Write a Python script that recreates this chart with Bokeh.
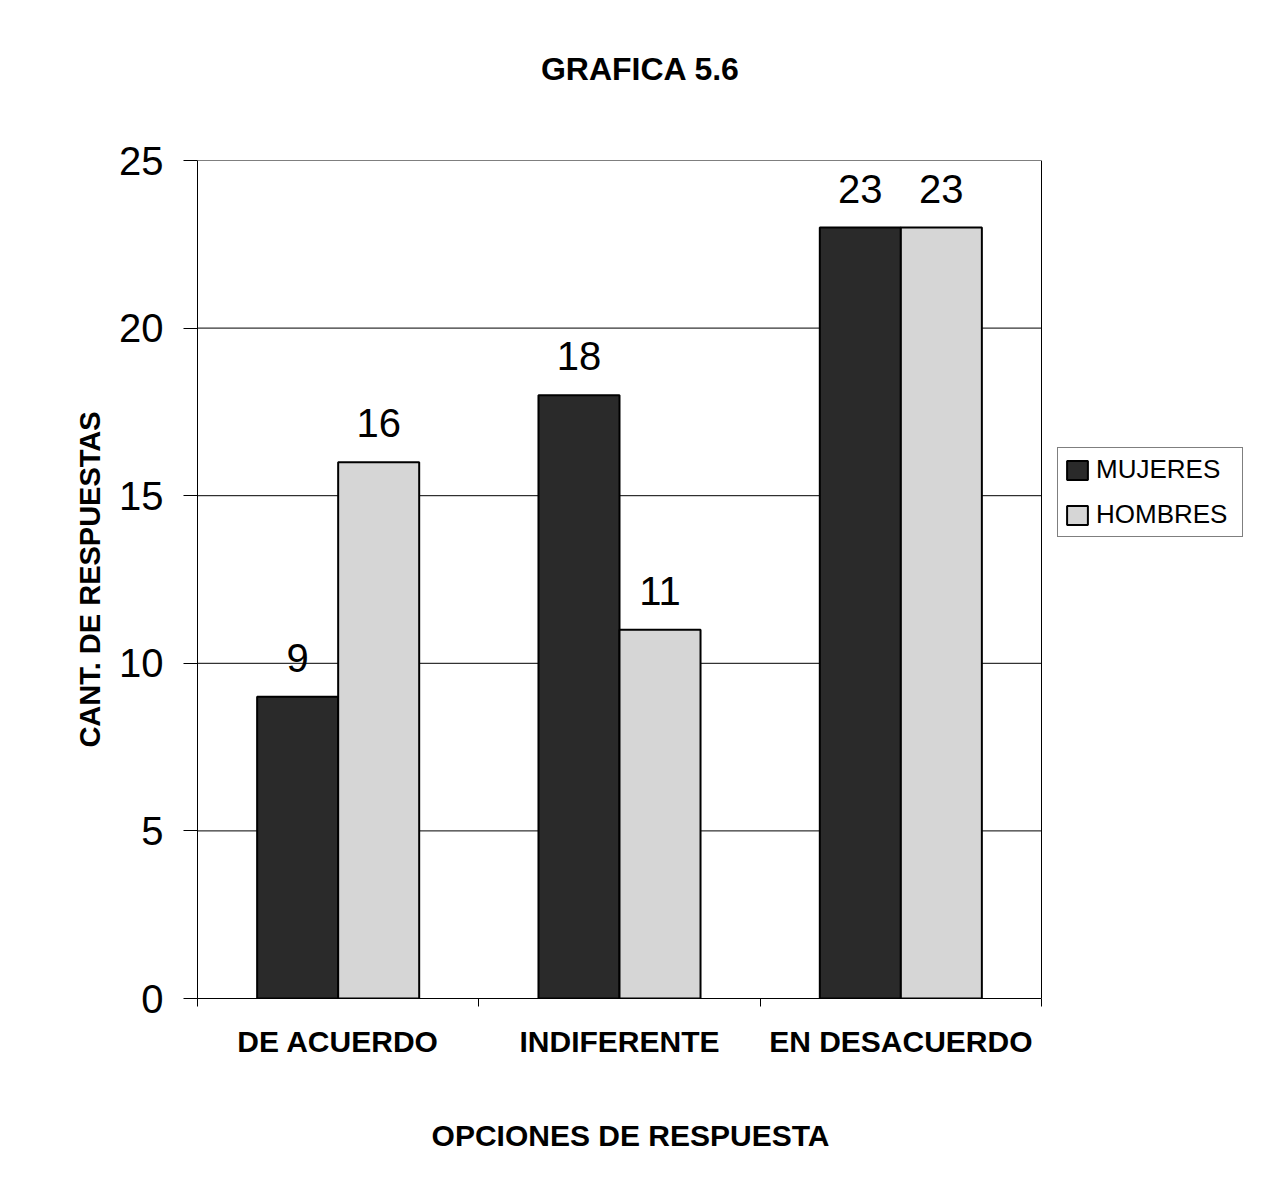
from bokeh.plotting import figure
from bokeh.models import (Range1d, FixedTicker, Legend, LegendItem, ColumnDataSource,
                          LabelSet, LinearAxis)
from bokeh.core.properties import value
from bokeh.embed import file_html
from bokeh.resources import INLINE

categories = ["DE ACUERDO", "INDIFERENTE", "EN DESACUERDO"]
mujeres = [9, 18, 23]
hombres = [16, 11, 23]
series_names = ["MUJERES", "HOMBRES"]
y_ticks = [0, 5, 10, 15, 20, 25]
y_max = 25
chart_title = "GRAFICA 5.6"
x_title = "OPCIONES DE RESPUESTA"
y_title = "CANT. DE RESPUESTAS"

FONT = "Liberation Sans"
W, H = 1245, 1180
LEFT, RIGHT, TOP, BOTTOM = 197, 1041, 160, 998   # plot-area edges in px
n = len(categories)
x_end = n * (W - LEFT) / (RIGHT - LEFT)          # frame extends under the legend
px2x = lambda px: (px - LEFT) / (RIGHT - LEFT) * n

p = figure(width=W, height=H, output_backend="svg", toolbar_location=None,
           title_location=None,
           x_range=Range1d(0, x_end), y_range=Range1d(0, y_max),
           min_border_left=LEFT, min_border_right=0, min_border_top=TOP,
           min_border_bottom=H - BOTTOM)
p.outline_line_color = None
p.xgrid.grid_line_color = None
p.ygrid.grid_line_color = None

# grid lines and plot-area border, limited to the category span
gx0 = [0] * (len(y_ticks) - 1) + [n]
gx1 = [n] * (len(y_ticks) - 1) + [n]
gy0 = y_ticks[1:] + [0]
gy1 = y_ticks[1:] + [y_max]
p.segment(x0=gx0, y0=gy0, x1=gx1, y1=gy1, line_color="black", line_width=1)

bw = 0.288
centers = [i + 0.5 for i in range(n)]
src = ColumnDataSource(dict(
    xm=[c - bw / 2 for c in centers], xh=[c + bw / 2 for c in centers],
    m=mujeres, h=hombres,
    ml=[str(v) for v in mujeres], hl=[str(v) for v in hombres]))

rm = p.vbar(x="xm", top="m", width=bw, bottom=0, source=src,
            fill_color="#2a2a2a", line_color="black", line_width=2)
rh = p.vbar(x="xh", top="h", width=bw, bottom=0, source=src,
            fill_color="#d6d6d6", line_color="black", line_width=2)

for xcol, ycol, tcol in (("xm", "m", "ml"), ("xh", "h", "hl")):
    p.add_layout(LabelSet(x=xcol, y=ycol, text=tcol, source=src, text_align="center",
                          text_baseline="alphabetic", y_offset=25,
                          text_font=value(FONT), text_font_size=value("40px"),
                          text_color="black"))

# y axis
p.yaxis.ticker = FixedTicker(ticks=y_ticks)
p.yaxis.major_tick_out = 14
p.yaxis.major_tick_in = 0
p.yaxis.minor_tick_out = 0
p.yaxis.major_label_text_font = FONT
p.yaxis.major_label_text_font_size = "40px"
p.yaxis.major_label_text_color = "black"
p.yaxis.major_label_standoff = 20
p.yaxis.axis_line_color = "black"
p.yaxis.major_tick_line_color = "black"
p.yaxis.axis_label = y_title
p.yaxis.axis_label_text_font = FONT
p.yaxis.axis_label_text_font_size = "29px"
p.yaxis.axis_label_text_font_style = "bold"
p.yaxis.axis_label_text_color = "black"
p.yaxis.axis_label_standoff = 10

# x axis
p.xaxis.bounds = (0, n)
p.xaxis.ticker = FixedTicker(ticks=centers, minor_ticks=list(range(n + 1)))
p.xaxis.major_label_overrides = {c: t for c, t in zip(centers, categories)}
p.xaxis.major_tick_out = 0
p.xaxis.major_tick_in = 0
p.xaxis.minor_tick_out = 8
p.xaxis.minor_tick_in = 0
p.xaxis.minor_tick_line_color = "black"
p.xaxis.axis_line_color = "black"
p.xaxis.major_label_text_font = FONT
p.xaxis.major_label_text_font_size = "30px"
p.xaxis.major_label_text_font_style = "bold"
p.xaxis.major_label_text_color = "black"
p.xaxis.major_label_standoff = 18


def text_axis(text, xpos, size, standoff):
    ax = LinearAxis(ticker=FixedTicker(ticks=[xpos], minor_ticks=[]),
                    major_label_overrides={xpos: text},
                    axis_line_color=None, major_tick_line_color=None,
                    minor_tick_line_color=None, major_tick_out=0, major_tick_in=0,
                    major_label_standoff=standoff, major_label_text_font=FONT,
                    major_label_text_font_size=size, major_label_text_font_style="bold",
                    major_label_text_color="black")
    return ax


p.add_layout(text_axis(x_title, px2x(630), "30px", 58), "below")
p.add_layout(text_axis(chart_title, px2x(640), "32px", 74), "above")

legend = Legend(items=[LegendItem(label=series_names[0], renderers=[rm]),
                       LegendItem(label=series_names[1], renderers=[rh])],
                location=(860, 461), margin=0, padding=6, spacing=14,
                label_standoff=6, glyph_width=26, glyph_height=24, label_height=30,
                label_width=140,
                label_text_font=FONT, label_text_font_size="26px", label_text_color="black",
                border_line_color="black", border_line_width=1, background_fill_alpha=1)
p.add_layout(legend, "center")

open("out.html", "w").write(file_html(p, INLINE))
